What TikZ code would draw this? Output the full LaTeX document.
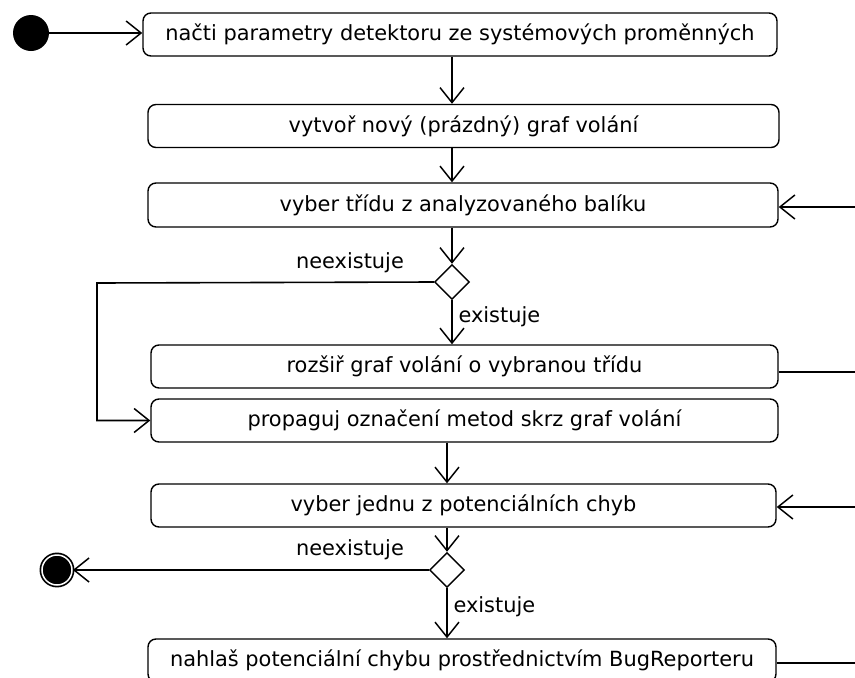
\documentclass[tikz,border=0pt]{standalone}
\usepackage{fontspec}
\setmainfont{DejaVu Sans}
\usetikzlibrary{arrows.meta,shapes.geometric}
\begin{document}
\begin{tikzpicture}
[x=1pt,y=-1pt,
  actiondecorate/.style={shape=rectangle,rounded corners=8pt,draw,line width=1.4pt,inner sep=0pt,minimum height=43pt,font=\fontsize{20.9}{24}\selectfont},%
  choicedecorate/.style={shape=diamond,draw,line width=1.4pt,inner sep=0pt,minimum width=35pt,minimum height=35pt},%
  startdecorate/.style={shape=circle,fill=black,inner sep=0pt,minimum size=36pt},%
  stopdecorate/.style={shape=circle,draw=black,fill=black,double=white,double distance=1.5pt,line width=1.7pt,inner sep=0pt,minimum size=30pt},%
  guarddecorate/.style={font=\fontsize{20.9}{24}\selectfont},%
  linedecorate/.style={-,line width=1.6pt},%
  flowdecorate/.style={-{Straight Barb[length=15pt,width=24pt,line width=1.5pt]},line width=1.6pt}]
\useasboundingbox (0,0) rectangle (855,678);
% nodes or vertices
\node (start) at (31,33) [startdecorate] {};
\node (1) at (460,34.5) [actiondecorate,minimum width=634pt] {načti parametry detektoru ze systémových proměnných};
\node (2) at (463.5,126) [actiondecorate,minimum width=631pt] {vytvoř nový (prázdný) graf volání};
\node (3) at (463,205) [actiondecorate,minimum width=630pt,minimum height=44pt] {vyber třídu z analyzovaného balíku};
\node (c1) at (452,282) [choicedecorate] {};
\node (4) at (464.5,366.5) [actiondecorate,minimum width=627pt] {rozšiř graf volání o vybranou třídu};
\node (5) at (464.5,420.5) [actiondecorate,minimum width=627pt] {propaguj označení metod skrz graf volání};
\node (6) at (463.5,505.5) [actiondecorate,minimum width=625pt] {vyber jednu z potenciálních chyb};
\node (c2) at (447,570) [choicedecorate] {};
\node (stop) at (57,570) [stopdecorate] {};
\node (7) at (462,660.5) [actiondecorate,minimum width=628pt] {nahlaš potenciální chybu prostřednictvím BugReporteru};
% guards
\node (no1) at (350,263) [guarddecorate] {neexistuje};
\node (yes1) at (455,317) [guarddecorate,anchor=west] {existuje};
\node (no2) at (350,550) [guarddecorate] {neexistuje};
\node (yes2) at (450,607) [guarddecorate,anchor=west] {existuje};
% loose ends
\coordinate (loop) at (97,283);
\coordinate (in3) at (855,207);
\coordinate (out4) at (855,372);
\coordinate (in6) at (855,507);
\coordinate (out7) at (855,663);
% edges or lines
\path
(start) edge[flowdecorate] (start -| 1.west)
(c1 |- 1.south) edge[flowdecorate] (c1 |- 2.north)
(c1 |- 2.south) edge[flowdecorate] (c1 |- 3.north)
(c1 |- 3.south) edge[flowdecorate] (c1.north)
(c1.south) edge[flowdecorate] (c1 |- 4.north)
(c2 |- 5.south) edge[flowdecorate] (c2 |- 6.north)
(c2 |- 6.south) edge[flowdecorate] (c2.north)
(c2.south) edge[flowdecorate] (c2 |- 7.north)
(c2.west) edge[flowdecorate] (stop)
(in3) edge[flowdecorate] (in3 -| 3.east)
(4.east |- out4) edge[linedecorate] (out4)
(in6) edge[flowdecorate] (in6 -| 6.east)
(7.east |- out7) edge[linedecorate] (out7);
\draw[flowdecorate] (c1.west) -- (loop) |- (5.west);
\end{tikzpicture}
\end{document}
